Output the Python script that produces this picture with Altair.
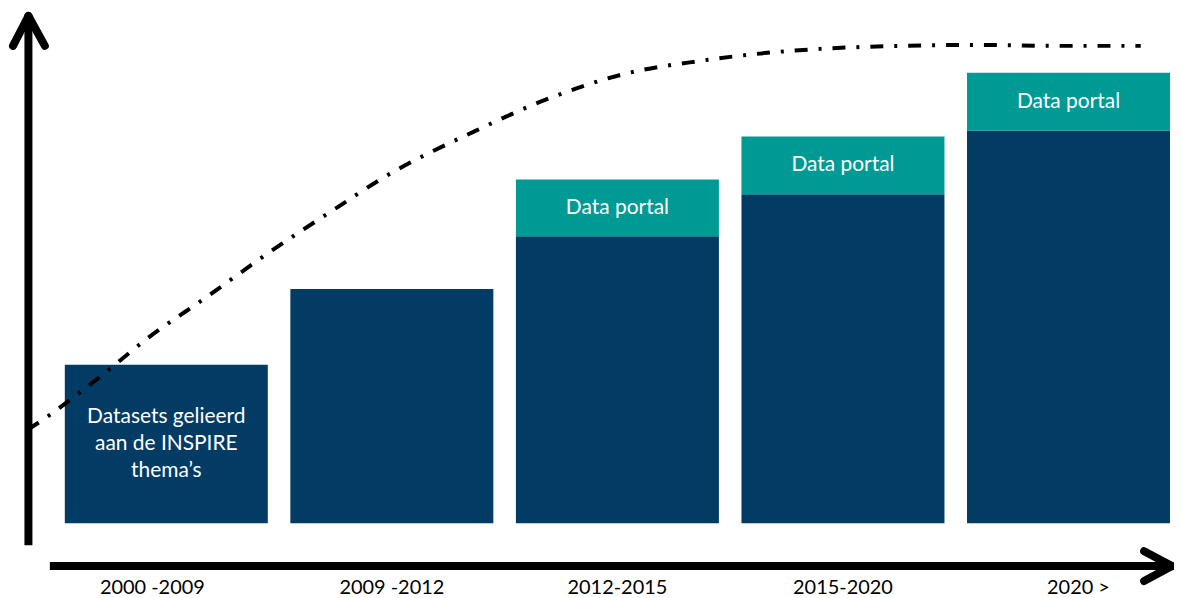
import altair as alt
import pandas as pd

# ---- data ----
periods = ["2000 -2009", "2009 -2012", "2012-2015", "2015-2020", "2020 >"]
base_values = [31.8, 47.0, 57.6, 66.0, 78.8]
portal_values = [0.0, 0.0, 11.4, 11.6, 11.6]
base_labels = ["Datasets gelieerd\naan de INSPIRE\nthema’s", "", "", "", ""]
portal_labels = ["", "", "Data portal", "Data portal", "Data portal"]

trend_x = [0, 1.7, 4.5, 6.3, 10.6, 15.6, 21.2, 27.0, 30.9, 39.1, 45.4, 52.1,
           58.7, 64.5, 69.1, 76.1, 83.0, 89.8, 97.1]
trend_y = [18.8, 21.4, 26.2, 29.4, 37.4, 45.4, 54.6, 63.4, 69.2, 78.8, 85.2,
           90.2, 92.8, 94.4, 95.2, 95.8, 96.0, 95.8, 95.8]

NAVY = "#023B63"
TEAL = "#009A95"
FONT = "Lato"
W, H = 1150, 554

bars = pd.DataFrame({
    "period": periods,
    "base": base_values,
    "top": [b + p for b, p in zip(base_values, portal_values)],
    "base_mid": [b / 2 for b in base_values],
    "portal_mid": [b + p / 2 for b, p in zip(base_values, portal_values)],
    "base_label": base_labels,
    "portal_label": portal_labels,
})
trend = pd.DataFrame({"t": trend_x, "v": trend_y})

yscale = alt.Scale(domain=[-8.6, 102.2], nice=False, zero=False)
label_offset = {
    "condition": [
        {"test": "datum.value === '2000 -2009'", "value": -14},
        {"test": "datum.value === '2020 >'", "value": 10},
    ],
    "value": 0,
}
xband = alt.X(
    "period:N", sort=periods,
    scale=alt.Scale(range=[37, 1146], paddingInner=0.1, paddingOuter=0, round=False),
    axis=alt.Axis(title=None, domain=False, ticks=False, labelAngle=0,
                  labelFont=FONT, labelFontSize=20, labelColor="black",
                  labelPadding=21, labelBaseline="middle",
                  labelOffset=label_offset),
)

base = alt.Chart(bars)

navy_bars = base.mark_bar(color=NAVY).encode(
    x=xband,
    y=alt.Y("base:Q", scale=yscale, axis=None),
    y2=alt.Y2(datum=0),
)
teal_bars = base.transform_filter("datum.top > datum.base").mark_bar(color=TEAL).encode(
    x=xband,
    y=alt.Y("top:Q", scale=yscale, axis=None),
    y2="base:Q",
)
base_text = base.mark_text(color="white", font=FONT, fontSize=21, lineBreak="\n",
                           lineHeight=27, baseline="middle", dy=-27).encode(
    x=xband,
    y=alt.Y("base_mid:Q", scale=yscale, axis=None),
    text="base_label:N",
)
portal_text = base.mark_text(color="white", font=FONT, fontSize=21,
                             baseline="middle").encode(
    x=xband,
    y=alt.Y("portal_mid:Q", scale=yscale, axis=None),
    text="portal_label:N",
)

curve = alt.Chart(trend).mark_line(
    color="black", strokeWidth=4, strokeDash=[13, 11, 3, 11], interpolate="monotone"
).encode(
    x=alt.X("t:Q", scale=alt.Scale(domain=[0, 100], nice=False), axis=None),
    y=alt.Y("v:Q", scale=yscale, axis=None),
)

# ---- decorative axis arrows (pixel positions in the plot area) ----
def seg(x1, y1, x2, y2, cap="round"):
    return alt.Chart(pd.DataFrame({"a": [0]})).mark_rule(
        color="black", strokeWidth=8, strokeCap=cap
    ).encode(x=alt.value(x1), y=alt.value(y1), x2=alt.value(x2), y2=alt.value(y2))

arrows = [
    seg(0.5, 3, 0.5, 533, cap="butt"),
    seg(0.5, 2, -15, 32),
    seg(0.5, 2, 17, 32),
    seg(22, 554, 1146, 554, cap="butt"),
    seg(1148, 554, 1120, 539),
    seg(1148, 554, 1120, 569),
]

bar_layer = alt.layer(navy_bars, teal_bars, base_text, portal_text)
chart = alt.layer(bar_layer, curve, *arrows).resolve_scale(x="independent").properties(
    width=W, height=H,
    autosize=alt.AutoSizeParams(type="none"),
    padding={"left": 20, "top": 5, "right": 0, "bottom": 30},
    background="white",
).configure_view(stroke=None)

chart.save("out.html", embed_options={"renderer": "svg", "actions": False})
